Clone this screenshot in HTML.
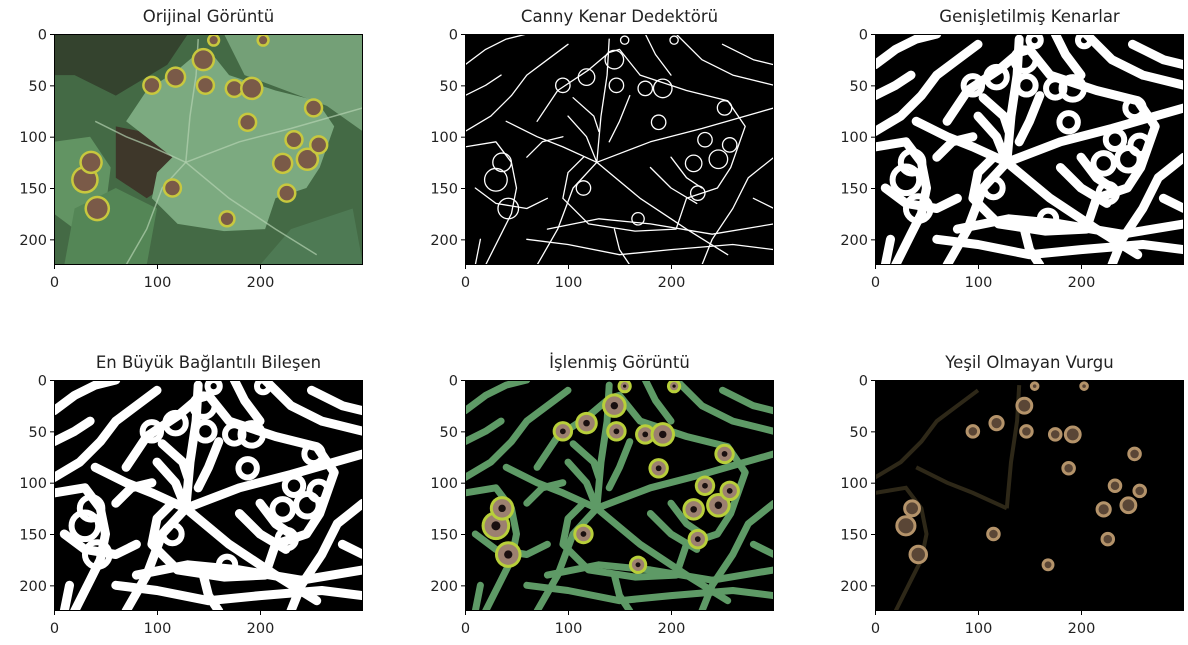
<!DOCTYPE html>
<html><head><meta charset="utf-8">
<style>
html,body{margin:0;padding:0;background:#fff;}
svg{display:block;font-family:"DejaVu Sans","Liberation Sans",sans-serif;}
</style></head>
<body>
<svg id="fig" width="1188" height="645" viewBox="0 0 1188 645" xmlns="http://www.w3.org/2000/svg"></svg>
<script>
// ---- data (image data coordinates: x 0..300, y 0..225) ----
const panelTitles = ["Orijinal Görüntü","Canny Kenar Dedektörü","Genişletilmiş Kenarlar","En Büyük Bağlantılı Bileşen","İşlenmiş Görüntü","Yeşil Olmayan Vurgu"];
const xTicks = [0,100,200];
const yTicks = [0,50,100,150,200];
const spotX = [95,118,145,147,175,192,188,252,233,222,246,257,226,115,168,42,30,36,155,203];
const spotY = [50,42,25,50,53,53,86,72,103,126,122,108,155,150,180,170,142,125,6,6];
const spotR = [7,8,9,7,7,9,7,7,7,8,9,7,7,7,6,10,11,9,4,4];
const edges = [
 [[128,125],[132,80],[138,40],[140,5]],
 [[128,125],[180,105],[230,92],[300,72]],
 [[128,125],[170,160],[215,190],[255,215]],
 [[128,125],[95,110],[70,100],[40,85]],
 [[128,125],[105,150],[90,190],[70,225]],
 [[70,85],[90,55],[120,35],[140,18],[150,15],[170,40],[215,55],[255,65],[272,90],[258,130],[245,150],[215,160],[205,190],[165,192],[120,185],[95,160],[100,135],[115,120]],
 [[0,30],[20,15],[40,5],[60,0]],
 [[0,95],[25,80],[45,60],[60,40],[80,25],[100,10]],
 [[0,110],[30,105],[45,125],[50,150],[45,175],[35,195],[20,225]],
 [[10,150],[30,165],[60,170],[80,160]],
 [[60,200],[100,205],[150,215],[200,210],[260,205],[300,210]],
 [[80,190],[130,180],[180,185],[240,195],[300,185]],
 [[205,0],[230,25],[260,40],[300,50]],
 [[175,0],[185,20],[200,40]],
 [[300,120],[275,140],[260,170],[240,200],[230,225]],
 [[100,80],[118,100],[128,125]],
 [[105,62],[125,80],[130,95]],
 [[160,60],[150,85],[140,105]],
 [[200,120],[215,140],[230,150]],
 [[15,200],[10,225]],
 [[280,160],[300,170]],
 [[0,60],[20,50],[35,40]],
 [[60,120],[75,105],[95,100]],
 [[180,130],[200,150],[225,165]],
 [[145,190],[150,210],[160,225]],
 [[250,10],[280,25],[300,30]]
];
// ---- layout ----
const lefts=[54,465,875], tops=[34,380];
const W=309, H=231, sx=W/300, sy=H/225;
const NS="http://www.w3.org/2000/svg";
const fig=document.getElementById('fig');
function mk(tag,attrs,parent){const e=document.createElementNS(NS,tag);for(const k in attrs)e.setAttribute(k,attrs[k]);(parent||fig).appendChild(e);return e;}
function pathOf(pts,X,Y){return pts.map((p,i)=>(i?'L':'M')+X(p[0]).toFixed(1)+' '+Y(p[1]).toFixed(1)).join(' ');}

for(let i=0;i<6;i++){
  const L=lefts[i%3], T=tops[Math.floor(i/3)];
  const X=v=>L+v*sx, Y=v=>T+v*sy;
  const g=mk('g',{});
  
  
  const cp=mk('clipPath',{id:'cp'+i},g);
  mk('rect',{x:L,y:T,width:W,height:H},cp);
  const img=mk('g',{'clip-path':'url(#cp'+i+')'},g);
  
  
  if(i===0){
    mk('rect',{x:L,y:T,width:W,height:H,fill:'#446a45'},img);
    mk('path',{d:pathOf([[0,0],[130,0],[110,30],[60,60],[20,40],[0,40]],X,Y),fill:'#34432e'},img);
    mk('path',{d:pathOf([[60,90],[110,100],[120,140],[90,160],[60,140]],X,Y),fill:'#3e372a'},img);
    mk('path',{d:pathOf([[165,0],[300,0],[300,95],[265,70],[185,40]],X,Y),fill:'#74a077'},img);
    mk('path',{d:pathOf([[0,105],[35,100],[55,130],[50,170],[20,190],[0,175]],X,Y),fill:'#629463'},img);
    mk('path',{d:pathOf([[20,170],[60,150],[100,170],[90,225],[10,225]],X,Y),fill:'#548656'},img);
    mk('path',{d:pathOf([[200,225],[230,190],[290,170],[300,225]],X,Y),fill:'#4e7a54'},img);
    mk('path',{d:pathOf(edges[5],X,Y)+'Z',fill:'#7caa80'},img);
    for(let k=0;k<5;k++) mk('path',{d:pathOf(edges[k],X,Y),fill:'none',stroke:'#b3d1b0','stroke-width':1.5,opacity:0.7},img);
    spotX.forEach((sxv,k)=>{
      mk('circle',{cx:X(sxv),cy:Y(spotY[k]),r:spotR[k]*sx+2.5,fill:'#c8c83e'},img);
      mk('circle',{cx:X(sxv),cy:Y(spotY[k]),r:spotR[k]*sx,fill:'#7a5a48'},img);
    });
  } else {
    mk('rect',{x:L,y:T,width:W,height:H,fill:'#000'},img);
    if(i<5){
      const col = i===4?'#5e9a66':'#fff';
      const sw = i===1?1.3:(i===4?7:9);
      edges.forEach(e=>mk('path',{d:pathOf(e,X,Y),fill:'none',stroke:col,'stroke-width':sw,'stroke-linejoin':'round','stroke-linecap':'round'},img));
      spotX.forEach((sxv,k)=>{
        const r=spotR[k]*sx;
        if(i===1) mk('circle',{cx:X(sxv),cy:Y(spotY[k]),r:r,fill:'none',stroke:'#fff','stroke-width':1.3},img);
        else if(i===4){
          mk('circle',{cx:X(sxv),cy:Y(spotY[k]),r:r+3,fill:'#b8cf3a'},img);
          mk('circle',{cx:X(sxv),cy:Y(spotY[k]),r:r,fill:'#9c8070'},img);
          mk('circle',{cx:X(sxv),cy:Y(spotY[k]),r:r*0.4,fill:'#1a1010'},img);
        } else mk('circle',{cx:X(sxv),cy:Y(spotY[k]),r:r+2,fill:'none',stroke:'#fff','stroke-width':6},img);
      });
    } else {
      [0,3,7,8].forEach(k=>mk('path',{d:pathOf(edges[k],X,Y),fill:'none',stroke:'#2e2818','stroke-width':4},img));
      spotX.forEach((sxv,k)=>{
        const r=spotR[k]*sx*0.8;
        mk('circle',{cx:X(sxv),cy:Y(spotY[k]),r:r,fill:'#5a4636',stroke:'#b4936a','stroke-width':3},img);
      });
    }
  }
  mk('rect',{x:L+0.5,y:T+0.5,width:W-1,height:H-1,fill:'none',stroke:'#000','stroke-width':1},g);
  const t=mk('text',{x:L+W/2,y:T-12,'text-anchor':'middle','font-size':16.5,fill:'#222'},g);
  t.textContent=panelTitles[i];
  
  
  yTicks.forEach(v=>{
    const yy=Y(v+0.5);
    mk('line',{x1:L-4,x2:L,y1:yy,y2:yy,stroke:'#000','stroke-width':1},g);
    const tx=mk('text',{x:L-7,y:yy+5,'text-anchor':'end','font-size':14.5,fill:'#222'},g);
    tx.textContent=v;
    
    
  });
  xTicks.forEach(v=>{
    const xx=X(v+0.5);
    mk('line',{x1:xx,x2:xx,y1:T+H,y2:T+H+4,stroke:'#000','stroke-width':1},g);
    const tx=mk('text',{x:xx,y:T+H+22,'text-anchor':'middle','font-size':14.5,fill:'#222'},g);
    tx.textContent=v;
    
    
  });
}
</script>
</body></html>
